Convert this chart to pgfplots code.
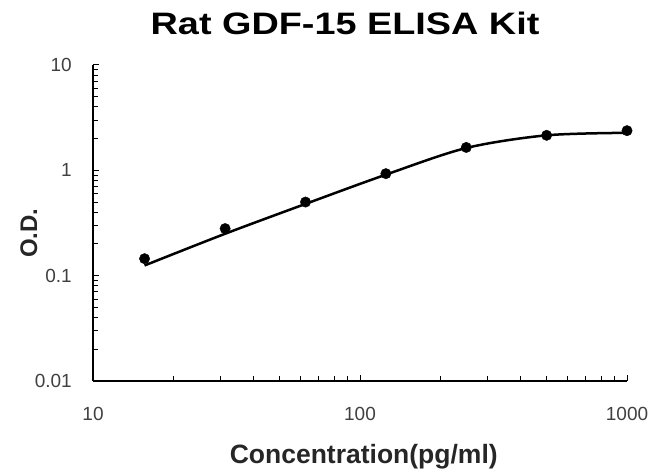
\documentclass[border=0pt]{standalone}
\usepackage{pgfplots}
\pgfplotsset{compat=1.18}
\usepackage{graphicx}
\usepackage{fontspec}
\setmainfont{Liberation Sans}
\begin{document}
\begin{tikzpicture}
\path[use as bounding box] (0pt,0pt) rectangle (650pt,-470pt);
\begin{axis}[
  at={(93pt,-381pt)}, anchor=south west,
  width=534pt, height=316pt, scale only axis,
  xmode=log, ymode=log,
  xmin=10, xmax=1000, ymin=0.01, ymax=10,
  axis lines=left, axis line style={-, line width=1.5pt},
  tick align=inside,
  major tick length=6pt, minor tick length=5pt,
  every tick/.style={black, line width=1pt},
  xtick={10,100,1000}, xticklabels={10,100,1000},
  ytick={0.01,0.1,1,10}, yticklabels={0.01,0.1,1,10},
  minor xtick={20,30,40,50,60,70,80,90,200,300,400,500,600,700,800,900},
  minor ytick={0.02,0.03,0.04,0.05,0.06,0.07,0.08,0.09,0.2,0.3,0.4,0.5,0.6,0.7,0.8,0.9,2,3,4,5,6,7,8,9},
  /pgf/number format/assume math mode=true,
  ticklabel style={font=\fontsize{19pt}{22pt}\selectfont, text=black!75, inner sep=0pt},
  yticklabel style={anchor=east, xshift=-21pt},
  xticklabel style={anchor=north, yshift=-26pt},
  title={\scalebox{1.22}[1]{Rat GDF-15 ELISA Kit}},
  title style={at={(axis description cs:0.472,1.114)}, anchor=center, font=\fontsize{31pt}{36pt}\selectfont\bfseries},
  xlabel={Concentration(pg/ml)},
  xlabel style={at={(axis description cs:0.507,-0.24)}, anchor=center, font=\fontsize{26.5pt}{30pt}\selectfont\bfseries, text=black!85},
  ylabel={O.D.},
  ylabel style={at={(axis description cs:-0.12,0.468)}, anchor=center, rotate=0, font=\fontsize{24pt}{28pt}\selectfont\bfseries, text=black!85},
  clip=false,
]
\addplot[black, line width=2.5pt, smooth, tension=0.5, no markers] coordinates {
  (15.6,0.125) (31.25,0.25) (62.5,0.48) (125,0.91) (250,1.63) (500,2.15) (1000,2.27)
};
\addplot[only marks, mark=*, mark size=5.2pt, black] coordinates {
  (15.6,0.145) (31.25,0.28) (62.5,0.50) (125,0.93) (250,1.65) (500,2.15) (1000,2.38)
};
\end{axis}
\end{tikzpicture}
\end{document}
